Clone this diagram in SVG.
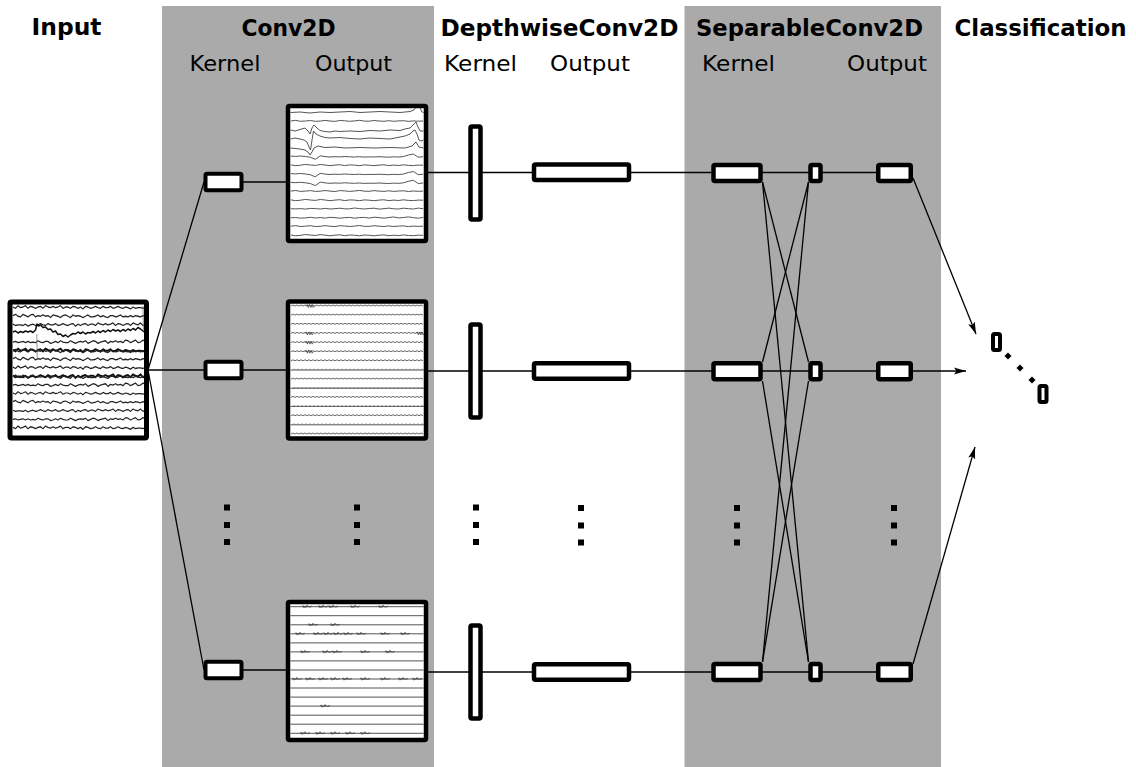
<svg xmlns="http://www.w3.org/2000/svg" width="1136" height="767" viewBox="0 0 1136 767">
<style>
.panel{fill:#aaaaaa}
.t{font-family:"DejaVu Sans",Verdana,sans-serif;fill:#000}
.h{font-size:22.5px;font-weight:bold}
.s{font-size:21.5px}
.bg{fill:#fff}
.bd{fill:none;stroke:#000;stroke-width:4.5;stroke-linejoin:round}
.in{fill:none;stroke:#000;stroke-width:5;stroke-linejoin:round}
.box{fill:#fff;stroke:#000;stroke-width:4.5;stroke-linejoin:round}
.k{fill:#fff;stroke:#000;stroke-width:4;stroke-linejoin:round}
.c{stroke:#000;stroke-width:1.3;fill:none}
.a{stroke:#000;stroke-width:1.3;fill:none;marker-end:url(#ah)}
.dot{fill:#000}
.tr{fill:none;stroke:#222;stroke-width:1;stroke-linejoin:round;vector-effect:non-scaling-stroke}
.trd{fill:none;stroke:#111;stroke-width:1.5;stroke-linejoin:round;vector-effect:non-scaling-stroke}
.tg{fill:none;stroke:#555;stroke-width:1;stroke-linejoin:round}
.tz{fill:none;stroke:#555;stroke-width:.9}
.tl{fill:none;stroke:#888;stroke-width:.8}
.ts{fill:none;stroke:#555;stroke-width:1}
.tb{fill:none;stroke:#444;stroke-width:.8}
</style>
<defs>
<marker id="ah" markerUnits="userSpaceOnUse" markerWidth="14" markerHeight="8" refX="12" refY="4" orient="auto"><path d="M0,0.5 L12,4 L0,7.5 L2.5,4 Z" fill="#000"/></marker>
<path id="n1" d="M0,0l2.5,1 2.5,-2 2.5,1.5 2.5,-.5 2.5,-1 2.5,2 2.5,-1.5 2.5,.5 2.5,1 2.5,-1 2.5,-.5 2.5,1.5 2.5,-2 2.5,1 2.5,.5 2.5,-1 2.5,1 2.5,-.5 2.5,-1 2.5,2 2.5,-1 2.5,0 2.5,1 2.5,-1.5 2.5,.5 2.5,1 2.5,-1 2.5,1.5 2.5,-2 2.5,.5 2.5,1 2.5,-.5 2.5,-1 2.5,1 2.5,.5 2.5,-1.5 2.5,1 2.5,0 2.5,-1 2.5,1.5 2.5,-.5 2.5,-1 2.5,1 2.5,.5 2.5,-1 2.5,.5 2.5,1 2.5,-1.5 2.5,1 2.5,-.5 2.5,0 2.5,.5 2.5,-1"/>
<path id="n2" d="M0,0l2.5,-1 2.5,1.5 2.5,.5 2.5,-2 2.5,1 2.5,1 2.5,-1.5 2.5,-.5 2.5,2 2.5,-1 2.5,.5 2.5,-1 2.5,1 2.5,-.5 2.5,1.5 2.5,-2 2.5,.5 2.5,.5 2.5,1 2.5,-1.5 2.5,-.5 2.5,1 2.5,1 2.5,-2 2.5,1 2.5,-.5 2.5,.5 2.5,1 2.5,-1 2.5,-1 2.5,1.5 2.5,0 2.5,-.5 2.5,-1 2.5,1.5 2.5,-1 2.5,1 2.5,.5 2.5,-1.5 2.5,0 2.5,1 2.5,-.5 2.5,-1 2.5,1.5 2.5,-.5 2.5,.5 2.5,-1 2.5,1 2.5,-1 2.5,.5 2.5,.5 2.5,-1 2.5,.5"/>
<path id="s1" d="M0,0l4.9,.8 4.9,-.5 4.9,-.8 4.9,.6 4.9,.4 4.9,-.9 4.9,.5 4.9,.7 4.9,-.6 4.9,-.4 4.9,.9 4.9,-.7 4.9,.2 4.9,.6 4.9,-.8 4.9,.3 4.9,.5 4.9,-.6 4.9,-.3 4.9,.8 4.9,-.5 4.9,.4 4.9,-.7 4.9,.6 4.9,.2 4.9,-.5 4.9,.1"/>
<path id="s2" d="M0,0l4.9,-.6 4.9,.9 4.9,-.3 4.9,-.5 4.9,.8 4.9,-.2 4.9,-.7 4.9,.6 4.9,.4 4.9,-.9 4.9,.3 4.9,.5 4.9,-.4 4.9,-.6 4.9,.8 4.9,.1 4.9,-.7 4.9,.5 4.9,.3 4.9,-.6 4.9,.6 4.9,-.4 4.9,-.2 4.9,.7 4.9,-.5 4.9,.3 4.9,-.2"/>
<path id="s3" d="M0,0l4.9,.3 4.9,-.4 4.9,.5 4.9,.8 4.9,2 4.9,-3.5 4.9,.8 4.9,.4 4.9,-.3 4.9,.2 4.9,-.4 4.9,.3 4.9,.2 4.9,-.3 4.9,.4 4.9,-.2 4.9,.1 4.9,-.3 4.9,.3 4.9,.2 4.9,-.4 4.9,.3 4.9,-.6 4.9,-1.5 4.9,-1 4.9,3.2 4.9,-.5"/>
<path id="z" d="M0,0l2,-1 2,1 2,-1 2,1 2,-1 2,1 2,-1 2,1 2,-1 2,1 2,-1 2,1 2,-1 2,1 2,-1 2,1 2,-1 2,1 2,-1 2,1 2,-1 2,1 2,-1 2,1 2,-1 2,1 2,-1 2,1 2,-1 2,1 2,-1 2,1 2,-1 2,1 2,-1 2,1 2,-1 2,1 2,-1 2,1 2,-1 2,1 2,-1 2,1 2,-1 2,1 2,-1 2,1 2,-1 2,1 2,-1 2,1 2,-1 2,1 2,-1 2,1 2,-1 2,1 2,-1 2,1 2,-1 2,1 2,-1 2,1 2,-1 2,1"/>
<path id="w" d="M0,0l1.2,-1.5 1.2,3 1.2,-3 1.2,3 1.2,-3 1.2,3 1.2,-1.5"/>
<path id="zb" d="M0,0l1,-1.2 1,2.4 1,-2 1,1.6 1,-2.4 1,2 1,-.8 1,1.2 1,-1.6 1,.8"/>
</defs>

<rect class="panel" x="162" y="6" width="272" height="761"/>
<rect class="panel" x="684.5" y="6" width="256.5" height="761"/>

<g id="labels">
<text class="t h" x="31.5" y="35" textLength="70" lengthAdjust="spacingAndGlyphs">Input</text>
<text class="t h" x="241.5" y="35.5" textLength="94" lengthAdjust="spacingAndGlyphs">Conv2D</text>
<text class="t s" x="189.5" y="70.5" textLength="71" lengthAdjust="spacingAndGlyphs">Kernel</text>
<text class="t s" x="315" y="70.5" textLength="77" lengthAdjust="spacingAndGlyphs">Output</text>
<text class="t h" x="440.5" y="35.5" textLength="238" lengthAdjust="spacingAndGlyphs">DepthwiseConv2D</text>
<text class="t s" x="444" y="70.5" textLength="73" lengthAdjust="spacingAndGlyphs">Kernel</text>
<text class="t s" x="550" y="70.5" textLength="80" lengthAdjust="spacingAndGlyphs">Output</text>
<text class="t h" x="696" y="35.5" textLength="227" lengthAdjust="spacingAndGlyphs">SeparableConv2D</text>
<text class="t s" x="702" y="70.5" textLength="73" lengthAdjust="spacingAndGlyphs">Kernel</text>
<text class="t s" x="847" y="70.5" textLength="80" lengthAdjust="spacingAndGlyphs">Output</text>
<text class="t h" x="954.5" y="35.5" textLength="172" lengthAdjust="spacingAndGlyphs">Classification</text>
</g>

<g id="connectors">
<line class="c" x1="148" y1="370" x2="204" y2="182"/>
<line class="c" x1="148" y1="370" x2="204" y2="370"/>
<line class="c" x1="148" y1="370" x2="204" y2="670"/>
<line class="c" x1="243" y1="182" x2="288" y2="182"/>
<line class="c" x1="243" y1="370" x2="288" y2="370"/>
<line class="c" x1="243" y1="670" x2="288" y2="670"/>
<line class="c" x1="426" y1="172.5" x2="878" y2="172.5"/>
<line class="c" x1="426" y1="371" x2="878" y2="371"/>
<line class="c" x1="426" y1="672" x2="878" y2="672"/>
<line class="c" x1="762.5" y1="182" x2="808.5" y2="362"/>
<line class="c" x1="762.5" y1="182" x2="808.5" y2="662"/>
<line class="c" x1="762.5" y1="362" x2="808.5" y2="182"/>
<line class="c" x1="762.5" y1="381" x2="808.5" y2="662"/>
<line class="c" x1="762.5" y1="662" x2="808.5" y2="182"/>
<line class="c" x1="762.5" y1="662" x2="808.5" y2="381"/>
<line class="a" x1="913" y1="178" x2="976" y2="334"/>
<line class="a" x1="913" y1="371" x2="966" y2="371"/>
<line class="a" x1="913" y1="664" x2="975" y2="447"/>
</g>

<g id="input">
<rect class="bg" x="10" y="302" width="136.5" height="136"/>
<use href="#n1" class="tr" transform="translate(13,307) scale(1,1.3)"/>
<use href="#n2" class="tr" transform="translate(13,315.6) scale(1,1.3)"/>
<use href="#n1" class="tr" transform="translate(145.5,324.2) scale(-1,1.3)"/>
<polyline class="trd" points="13,332 15.5,331 18,333 20.5,331.5 23,332.5 25.5,331 28,332 30.5,331 33,332.5 35.5,330 37,324 38.5,326 40.5,325 43,327.5 45.5,327 48,329.5 50.5,329 53,332 55.5,331 58,334.5 60.5,334 63,336.5 65.5,335 68,337 70.5,335 73,333.5 75.5,334 78,332 80.5,333.5 83,332 85.5,334 88,332.5 90.5,333 93,331.5 95.5,333 98,331 100.5,332.5 103,330.5 105.5,332 108,330 110.5,331.5 113,329.5 115.5,331 118,330 120.5,331.5 123,329.5 125.5,331 128,329 130.5,330.5 133,328.5 135.5,330 138,327.5 140.5,329 143,331 145.5,333"/>
<use href="#n2" class="tr" transform="translate(145.5,341.4) scale(-1,1.3)"/>
<use href="#n1" class="trd" transform="translate(13,350) scale(1,1.4)"/>
<use href="#n2" class="tr" transform="translate(13,350.6) scale(1,1.3)"/>
<use href="#n2" class="tr" transform="translate(13,358.6) scale(1,1.3)"/>
<use href="#n1" class="tr" transform="translate(13,367.2) scale(1,1.3)"/>
<use href="#n1" class="trd" transform="translate(145.5,375.8) scale(-1,1.4)"/>
<use href="#n2" class="tr" transform="translate(13,376.4) scale(1,1.3)"/>
<use href="#n2" class="tr" transform="translate(145.5,384.4) scale(-1,1.3)"/>
<use href="#n1" class="tr" transform="translate(13,393) scale(1,1.2)"/>
<use href="#n2" class="tr" transform="translate(13,401.6) scale(1,1.2)"/>
<use href="#n1" class="tr" transform="translate(145.5,410.2) scale(-1,1.2)"/>
<use href="#n2" class="tr" transform="translate(145.5,418.8) scale(-1,1.2)"/>
<use href="#n1" class="tr" transform="translate(13,427.4) scale(1,1.3)"/>
<path fill="none" stroke="#666" stroke-width=".7" d="M36.8,334 L37.2,358 M143,306 L143.4,330"/>
<rect class="in" x="10" y="302" width="136.5" height="136" rx="1.5"/>
</g>

<g id="conv-kernel-1"><rect class="k" x="205.5" y="173.75" width="36" height="16.5" rx="1.5"/></g>
<g id="conv-kernel-2"><rect class="k" x="205.5" y="361.75" width="36" height="16.5" rx="1.5"/></g>
<g id="conv-kernel-n"><rect class="k" x="205.5" y="661.75" width="36" height="16.5" rx="1.5"/></g>

<g id="conv-output-1">
<rect class="bg" x="288" y="106" width="138" height="135"/>
<polyline class="tg" points="290.5,112.5 300,112 310,113 320,112 330,112.5 340,112 350,111.5 360,112.5 370,112 380,111.5 390,112 400,112.5 410,111.5 414,110 416,107 418,106 420,108 422,112 423.5,112.5"/>
<use href="#s2" class="tg" transform="translate(290.8,121)"/>
<polyline class="tg" points="290.5,130 295,131 300,129.5 305,128 308,131 310,134 312,128 314,125 317,128 320,130.5 325,131.5 330,132 335,131 340,131.5 350,131 360,131.5 370,130.5 380,131 390,130 400,130.5 405,129 410,128 414,124 416,122 418,127 420,131 423.5,131"/>
<polyline class="tg" points="290.5,139 295,138 300,139 304,140 307,142 309,147 310.5,150 312,140 313.5,131 316,134 320,136 325,137.5 330,138 340,137.5 350,138.5 360,139 370,138 380,138.5 390,139 400,137 405,136 410,134 413,131 415,130 417,134 419,140 421,141 423.5,140"/>
<polyline class="tg" points="290.5,148 300,149 305,150 308,152 310,155 312,152 314,148 318,146 325,147.5 335,147 345,148 360,147.5 375,148 390,147.5 405,148 412,146 416,142 419,147 423.5,148"/>
<use href="#s3" class="tg" transform="translate(290.8,156.1)"/>
<use href="#s1" class="tg" transform="translate(290.8,164.9)"/>
<use href="#s3" class="tg" transform="translate(290.8,173.6)"/>
<use href="#s3" class="tg" transform="translate(290.8,182.4)"/>
<use href="#s2" class="tg" transform="translate(290.8,191.1)"/>
<use href="#s1" class="tg" transform="translate(290.8,199.9)"/>
<use href="#s2" class="tg" transform="translate(423.2,208.7) scale(-1,1)"/>
<use href="#s1" class="tg" transform="translate(423.2,217.4) scale(-1,1)"/>
<use href="#s2" class="tg" transform="translate(290.8,226.2)"/>
<use href="#s1" class="tg" transform="translate(290.8,235)"/>
<rect class="bd" x="288" y="106" width="138" height="135" rx="1.5"/>
</g>

<g id="conv-output-2">
<rect class="bg" x="288" y="301.5" width="138" height="137"/>
<use href="#z" class="tz" transform="translate(291,306)"/>
<use href="#z" class="tz" transform="translate(291,315.1)"/>
<use href="#z" class="tz" transform="translate(291,324.3)"/>
<use href="#z" class="tz" transform="translate(291,333.4)"/>
<use href="#z" class="tz" transform="translate(291,342.6)"/>
<use href="#z" class="tz" transform="translate(291,351.7)"/>
<use href="#z" class="tz" transform="translate(291,360.8)"/>
<path class="ts" d="M290.5,370H423.5M290.5,388.3H423.5M290.5,406.5H423.5M290.5,424.8H423.5"/>
<use href="#z" class="tz" transform="translate(291,379.1)"/>
<use href="#z" class="tz" transform="translate(291,397.4)"/>
<use href="#z" class="tz" transform="translate(291,415.7)"/>
<use href="#z" class="tz" transform="translate(291,434)"/>
<use href="#z" class="tl" transform="translate(292,370)"/>
<use href="#z" class="tl" transform="translate(292,388.3)"/>
<use href="#z" class="tl" transform="translate(292,406.5)"/>
<use href="#z" class="tl" transform="translate(292,424.8)"/>
<use href="#w" class="tb" transform="translate(306,306)"/>
<use href="#w" class="tb" transform="translate(305,333.4)"/>
<use href="#w" class="tb" transform="translate(305,342.6)"/>
<use href="#w" class="tb" transform="translate(305,351.7)"/>
<use href="#w" class="tb" transform="translate(416,333.4)"/>
<rect class="bd" x="288" y="301.5" width="138" height="137" rx="1.5"/>
</g>

<g id="conv-output-n">
<rect class="bg" x="288" y="602" width="138" height="138"/>
<path class="ts" d="M290.5,606.7H423.5M290.5,615.7H423.5M290.5,624.8H423.5M290.5,633.8H423.5M290.5,642.9H423.5M290.5,651.9H423.5M290.5,660.9H423.5M290.5,670H423.5M290.5,679H423.5M290.5,688H423.5M290.5,697.1H423.5M290.5,706.1H423.5M290.5,715.2H423.5M290.5,724.2H423.5M290.5,733.3H423.5"/>
<use href="#zb" class="tb" transform="translate(302,606.7)"/>
<use href="#zb" class="tb" transform="translate(318,606.7)"/>
<use href="#zb" class="tb" transform="translate(328,606.7)"/>
<use href="#zb" class="tb" transform="translate(350,606.7)"/>
<use href="#zb" class="tb" transform="translate(378,606.7)"/>
<use href="#zb" class="tb" transform="translate(308,624.8)"/>
<use href="#zb" class="tb" transform="translate(330,624.8)"/>
<use href="#zb" class="tb" transform="translate(295,633.8)"/>
<use href="#zb" class="tb" transform="translate(313,633.8)"/>
<use href="#zb" class="tb" transform="translate(323,633.8)"/>
<use href="#zb" class="tb" transform="translate(333,633.8)"/>
<use href="#zb" class="tb" transform="translate(343,633.8)"/>
<use href="#zb" class="tb" transform="translate(356,633.8)"/>
<use href="#zb" class="tb" transform="translate(380,633.8)"/>
<use href="#zb" class="tb" transform="translate(400,633.8)"/>
<use href="#zb" class="tb" transform="translate(300,651.9)"/>
<use href="#zb" class="tb" transform="translate(322,651.9)"/>
<use href="#zb" class="tb" transform="translate(332,651.9)"/>
<use href="#zb" class="tb" transform="translate(360,651.9)"/>
<use href="#zb" class="tb" transform="translate(385,651.9)"/>
<use href="#zb" class="tb" transform="translate(292,679)"/>
<use href="#zb" class="tb" transform="translate(305,679)"/>
<use href="#zb" class="tb" transform="translate(318,679)"/>
<use href="#zb" class="tb" transform="translate(330,679)"/>
<use href="#zb" class="tb" transform="translate(342,679)"/>
<use href="#zb" class="tb" transform="translate(360,679)"/>
<use href="#zb" class="tb" transform="translate(380,679)"/>
<use href="#zb" class="tb" transform="translate(398,679)"/>
<use href="#zb" class="tb" transform="translate(412,679)"/>
<use href="#zb" class="tb" transform="translate(320,706.1)"/>
<use href="#zb" class="tb" transform="translate(300,733.3)"/>
<use href="#zb" class="tb" transform="translate(315,733.3)"/>
<use href="#zb" class="tb" transform="translate(330,733.3)"/>
<use href="#zb" class="tb" transform="translate(345,733.3)"/>
<use href="#zb" class="tb" transform="translate(360,733.3)"/>
<rect class="bd" x="288" y="602" width="138" height="138" rx="1.5"/>
</g>

<g id="depthwise-kernel-1"><rect class="box" x="470.5" y="126.5" width="10" height="93" rx="1.5"/></g>
<g id="depthwise-kernel-2"><rect class="box" x="470.5" y="324.5" width="10" height="93" rx="1.5"/></g>
<g id="depthwise-kernel-n"><rect class="box" x="470.5" y="625.5" width="10" height="93" rx="1.5"/></g>
<g id="depthwise-output-1"><rect class="box" x="534" y="164.5" width="95" height="15.5" rx="1.5"/></g>
<g id="depthwise-output-2"><rect class="box" x="534" y="363.25" width="95" height="15.5" rx="1.5"/></g>
<g id="depthwise-output-n"><rect class="box" x="534" y="664.25" width="95" height="15.5" rx="1.5"/></g>

<g id="separable-kernel-1"><rect class="box" x="713.5" y="165" width="47" height="16" rx="1.5"/><rect class="box" x="810.5" y="165" width="10" height="16" rx="1.5"/></g>
<g id="separable-kernel-2"><rect class="box" x="713.5" y="363.25" width="47" height="16" rx="1.5"/><rect class="box" x="810.5" y="363.25" width="10" height="16" rx="1.5"/></g>
<g id="separable-kernel-n"><rect class="box" x="713.5" y="664" width="47" height="16" rx="1.5"/><rect class="box" x="810.5" y="664" width="10" height="16" rx="1.5"/></g>
<g id="separable-output-1"><rect class="box" x="878.25" y="165" width="32.5" height="16" rx="1.5"/></g>
<g id="separable-output-2"><rect class="box" x="878.25" y="363.25" width="32.5" height="16" rx="1.5"/></g>
<g id="separable-output-n"><rect class="box" x="878.25" y="664" width="32.5" height="16" rx="1.5"/></g>

<g id="ellipses">
<rect class="dot" x="224" y="504.5" width="6" height="6"/><rect class="dot" x="224" y="522" width="6" height="6"/><rect class="dot" x="224" y="539" width="6" height="6"/>
<rect class="dot" x="354" y="504.5" width="6" height="6"/><rect class="dot" x="354" y="522" width="6" height="6"/><rect class="dot" x="354" y="539" width="6" height="6"/>
<rect class="dot" x="473" y="504.5" width="6" height="6"/><rect class="dot" x="473" y="522" width="6" height="6"/><rect class="dot" x="473" y="539" width="6" height="6"/>
<rect class="dot" x="578" y="505" width="6" height="6"/><rect class="dot" x="578" y="522.5" width="6" height="6"/><rect class="dot" x="578" y="539.5" width="6" height="6"/>
<rect class="dot" x="734" y="505" width="6" height="6"/><rect class="dot" x="734" y="522.5" width="6" height="6"/><rect class="dot" x="734" y="539.5" width="6" height="6"/>
<rect class="dot" x="891" y="505" width="6" height="6"/><rect class="dot" x="891" y="522.5" width="6" height="6"/><rect class="dot" x="891" y="539.5" width="6" height="6"/>
</g>

<g id="classification">
<rect class="k" x="993" y="334" width="7" height="16" rx="1.5"/>
<rect class="k" x="1039.5" y="386" width="7" height="16" rx="1.5"/>
<rect class="dot" x="-2.5" y="-2.5" width="5" height="5" transform="translate(1008,356) rotate(45)"/>
<rect class="dot" x="-2.5" y="-2.5" width="5" height="5" transform="translate(1020,368) rotate(45)"/>
<rect class="dot" x="-2.5" y="-2.5" width="5" height="5" transform="translate(1032,380) rotate(45)"/>
</g>
</svg>
